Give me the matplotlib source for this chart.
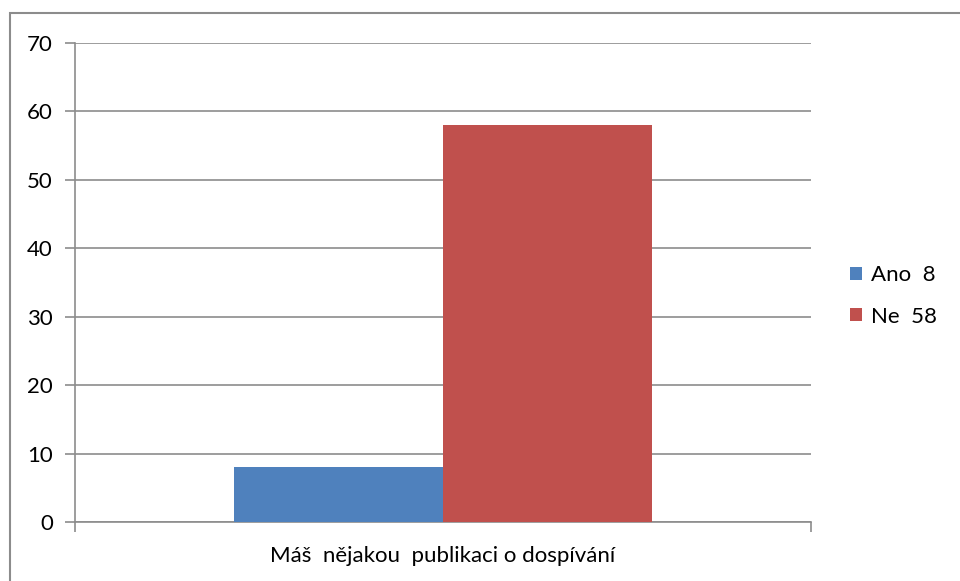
import matplotlib.pyplot as plt
from matplotlib.patches import Rectangle

category = 'Máš  nějakou  publikaci o dospívání'
series_names = ['Ano  8', 'Ne  58']
series_values = [8, 58]
series_colors = ['#4F81BD', '#C0504D']
y_ticks = [0, 10, 20, 30, 40, 50, 60, 70]

plt.rcParams['font.family'] = ['Lato', 'DejaVu Sans']

fig = plt.figure(figsize=(9.6, 5.81), dpi=100)
W, H = 960, 581
ax = fig.add_axes([75 / W, 1 - 522 / H, (811 - 75) / W, (522 - 43) / H])

bar_w = 0.284
offsets = [-bar_w / 2, bar_w / 2]
for name, val, col, off in zip(series_names, series_values, series_colors, offsets):
    ax.bar(off, val, width=bar_w, color=col, label=name, zorder=3)

ax.set_xlim(-0.5, 0.5)
ax.set_ylim(0, 70)
ax.set_yticks(y_ticks)
ax.set_yticklabels([str(t) for t in y_ticks], fontsize=16)
ax.grid(axis='y', color='#8c8c8c', linewidth=1.2, zorder=0)

# category boundaries ticks on x axis, label in the middle
ax.set_xticks([-0.5, 0.5])
ax.set_xticklabels(['', ''])
ax.tick_params(axis='x', direction='out', length=7, color='#8c8c8c', width=1.2)
ax.tick_params(axis='y', direction='out', length=7, color='#8c8c8c', width=1.2, pad=9)
ax.text(0, -0.07, category, transform=ax.get_xaxis_transform(), ha='center', va='center', fontsize=16)

for side in ['top', 'right']:
    ax.spines[side].set_visible(False)
for side in ['left', 'bottom']:
    ax.spines[side].set_color('#8c8c8c')
    ax.spines[side].set_linewidth(1.2)

leg = fig.legend(loc='center left', bbox_to_anchor=(841 / W, 1 - 296 / H), frameon=False,
                 fontsize=16, handlelength=0.55, handleheight=0.55, handletextpad=0.4,
                 labelspacing=0.95, borderaxespad=0)

# outer chart border (only top and left show inside the image)
fig.patches.append(Rectangle((10 / W, -0.05), 1.1, 1 - 13 / H + 0.05, transform=fig.transFigure,
                             fill=False, edgecolor='#8c8c8c', linewidth=1.5))

fig.savefig('out.png', dpi=100)
